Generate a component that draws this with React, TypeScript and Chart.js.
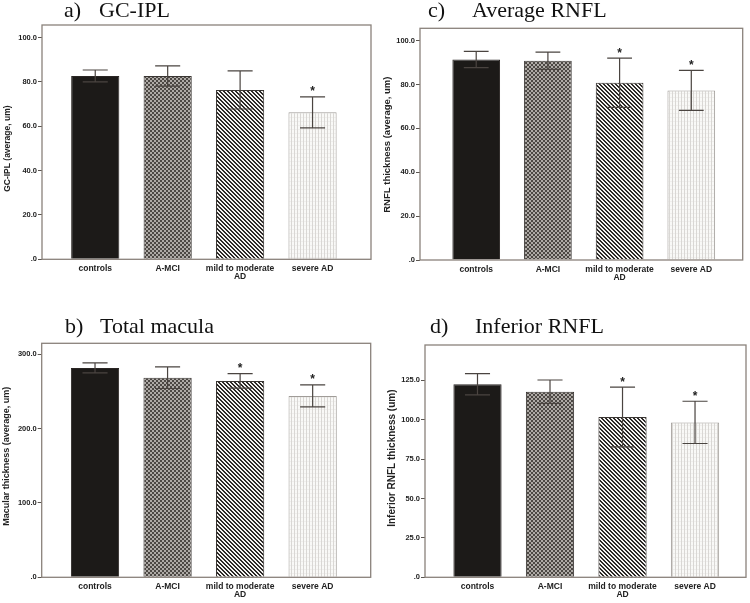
import React, { useEffect, useRef } from "react";
import { Chart, registerables } from "chart.js";

Chart.register(...registerables);

// ---- data ----
const categories = ["controls", "A-MCI", "mild to moderate\nAD", "severe AD"];

const gciplMeans = [82.7, 82.7, 76.4, 66.3];
const gciplErrors = [2.7, 4.6, 8.6, 7.0];
const gciplStars = [false, false, false, true];

const maculaMeans = [281.7, 268.6, 264.2, 244.0];
const maculaErrors = [6.7, 14.6, 9.8, 14.8];
const maculaStars = [false, false, true, true];

const avgRnflMeans = [91.4, 90.8, 80.8, 77.3];
const avgRnflErrors = [3.7, 3.9, 11.2, 9.1];
const avgRnflStars = [false, false, true, true];

const infRnflMeans = [122.5, 117.8, 101.7, 98.3];
const infRnflErrors = [6.7, 7.4, 19.0, 13.4];
const infRnflStars = [false, false, true, true];

// ---- layout / style per panel ----
type Panel = {
  letter: string;
  name: string;
  yTitle: string;
  values: number[];
  errors: number[];
  stars: boolean[];
  yMax: number;
  step: number;
  left: number;
  top: number;
  w: number;
  h: number;
  yW: number;
  padTop: number;
  padRight: number;
  xH: number;
  xMin: number;
  xMax: number;
  yTitleSize: number;
  yTitleX: number;
  yTitleDy: number;
  letterX: number;
  nameX: number;
  baseline: number;
};

const panels: Panel[] = [
  {
    letter: "a)", name: "GC-IPL", yTitle: "GC-IPL (average, um)",
    values: gciplMeans, errors: gciplErrors, stars: gciplStars,
    yMax: 105.7, step: 20,
    left: 0, top: 0, w: 375, h: 300,
    yW: 42, padTop: 25, padRight: 4, xH: 40.7, xMin: 0.265, xMax: 4.807,
    yTitleSize: 8.5, yTitleX: 8, yTitleDy: 6.5, letterX: 64, nameX: 99, baseline: 17,
  },
  {
    letter: "b)", name: "Total macula", yTitle: "Macular thickness (average, um)",
    values: maculaMeans, errors: maculaErrors, stars: maculaStars,
    yMax: 314.8, step: 100,
    left: 0, top: 300, w: 375, h: 303,
    yW: 41.7, padTop: 43.3, padRight: 4.3, xH: 25.7, xMin: 0.265, xMax: 4.8,
    yTitleSize: 9, yTitleX: 7, yTitleDy: -4, letterX: 65, nameX: 100, baseline: 33.3,
  },
  {
    letter: "c)", name: "Average RNFL", yTitle: "RNFL thickness (average, um)",
    values: avgRnflMeans, errors: avgRnflErrors, stars: avgRnflStars,
    yMax: 105.6, step: 20,
    left: 375, top: 0, w: 375, h: 300,
    yW: 45, padTop: 28.3, padRight: 7.3, xH: 40, xMin: 0.216, xMax: 4.717,
    yTitleSize: 9.5, yTitleX: 12.7, yTitleDy: 0.5, letterX: 53, nameX: 97, baseline: 17,
  },
  {
    letter: "d)", name: "Inferior RNFL", yTitle: "Inferior RNFL thickness (um)",
    values: infRnflMeans, errors: infRnflErrors, stars: infRnflStars,
    yMax: 147.4, step: 25,
    left: 375, top: 300, w: 375, h: 303,
    yW: 50, padTop: 45, padRight: 4, xH: 25.7, xMin: 0.276, xMax: 4.703,
    yTitleSize: 10, yTitleX: 17, yTitleDy: -3, letterX: 55, nameX: 100, baseline: 33.3,
  },
];

const SANS = "'Liberation Sans', Arial, sans-serif";
const SERIF = "'Liberation Serif', 'Times New Roman', serif";

function makePattern(ctx: CanvasRenderingContext2D, kind: string): CanvasPattern | string {
  const c = document.createElement("canvas");
  const g = c.getContext("2d");
  if (!g) return "#888";
  if (kind === "checker") {
    c.width = 4; c.height = 4;
    g.fillStyle = "#aeaaa6"; g.fillRect(0, 0, 4, 4);
    g.fillStyle = "#4c4844"; g.fillRect(0, 0, 2, 2); g.fillRect(2, 2, 2, 2);
  } else if (kind === "diag") {
    c.width = 4; c.height = 4;
    for (let y = 0; y < 4; y++) {
      for (let x = 0; x < 4; x++) {
        g.fillStyle = ((x - y + 8) % 4) < 2 ? "#2c2927" : "#f4f3f1";
        g.fillRect(x, y, 1, 1);
      }
    }
  } else {
    c.width = 3; c.height = 4;
    g.fillStyle = "#f9f9f7"; g.fillRect(0, 0, 3, 4);
    g.fillStyle = "#d9d7d4"; g.fillRect(0, 0, 1, 4);
    g.fillStyle = "#f0efed"; g.fillRect(1, 1, 2, 1);
  }
  return ctx.createPattern(c, "repeat") || "#888";
}

const decorPlugin = {
  id: "decor",
  afterDatasetsDraw(chart: any) {
    const p: Panel = chart.options.plugins.decor.panel;
    const ctx: CanvasRenderingContext2D = chart.ctx;
    const ys = chart.scales.y;
    const meta = chart.getDatasetMeta(0);
    ctx.save();
    meta.data.forEach((bar: any, i: number) => {
      const v = p.values[i];
      const e = p.errors[i];
      const yTop = ys.getPixelForValue(v + e);
      const yBot = ys.getPixelForValue(v - e);
      const x = bar.x;
      const half = bar.width * 0.26;
      ctx.strokeStyle = "#4a4440";
      ctx.lineWidth = 1.2;
      ctx.beginPath();
      ctx.moveTo(x, yTop); ctx.lineTo(x, yBot);
      ctx.moveTo(x - half, yTop); ctx.lineTo(x + half, yTop);
      ctx.moveTo(x - half, yBot); ctx.lineTo(x + half, yBot);
      ctx.stroke();
      if (p.stars[i]) {
        ctx.fillStyle = "#222";
        ctx.font = `bold 12px ${SANS}`;
        ctx.textAlign = "center";
        ctx.textBaseline = "alphabetic";
        ctx.fillText("*", x, yTop - 1.5);
      }
    });
    const a = chart.chartArea;
    ctx.strokeStyle = "#8a827b";
    ctx.lineWidth = 1.3;
    ctx.strokeRect(a.left, a.top, a.right - a.left, a.bottom - a.top);

    // rotated y-axis title
    ctx.translate(p.yTitleX, (a.top + a.bottom) / 2 + p.yTitleDy);
    ctx.rotate(-Math.PI / 2);
    ctx.fillStyle = "#222";
    ctx.font = `bold ${p.yTitleSize}px ${SANS}`;
    ctx.textAlign = "center";
    ctx.textBaseline = "middle";
    ctx.fillText(p.yTitle, 0, 0);
    ctx.restore();
  },
};

function PanelChart({ p }: { p: Panel }) {
  const ref = useRef<HTMLCanvasElement | null>(null);
  useEffect(() => {
    const canvas = ref.current;
    if (!canvas) return;
    const ctx = canvas.getContext("2d");
    if (!ctx) return;
    const bg = ["#1c1a18", makePattern(ctx, "checker"), makePattern(ctx, "diag"), makePattern(ctx, "light")];
    const chart = new Chart(ctx, {
      type: "bar",
      data: {
        datasets: [
          {
            data: p.values.map((v, i) => ({ x: i + 1, y: v })),
            backgroundColor: bg as any,
            borderColor: ["#2a2624", "#3a3633", "#3a3633", "#a09c98"],
            borderWidth: 1,
            barPercentage: 0.665,
            categoryPercentage: 1,
          } as any,
        ],
      },
      plugins: [decorPlugin as any],
      options: {
        responsive: false,
        animation: false,
        events: [],
        layout: { padding: { left: 0, top: p.padTop, right: p.padRight, bottom: 0 } },
        plugins: {
          legend: { display: false },
          tooltip: { enabled: false },
          decor: { panel: p },
        } as any,
        scales: {
          x: {
            type: "linear",
            min: p.xMin,
            max: p.xMax,
            offset: false,
            afterBuildTicks: (s: any) => {
              s.ticks = categories.map((_, i) => ({ value: i + 1 }));
            },
            afterFit: (s: any) => {
              s.height = p.xH;
            },
            ticks: {
              autoSkip: false,
              maxRotation: 0,
              padding: 5,
              color: "#222",
              font: { family: SANS, size: 8.5, weight: "bold", lineHeight: 1 },
              callback: (v: any) => {
                const lab = categories[Math.round(Number(v)) - 1];
                return lab ? lab.split("\n") : "";
              },
            },
            grid: { display: false, drawTicks: false },
            border: { display: false },
          } as any,
          y: {
            min: 0,
            max: p.yMax,
            afterFit: (s: any) => {
              s.width = p.yW;
            },
            ticks: {
              stepSize: p.step,
              includeBounds: false,
              padding: 1,
              color: "#222",
              font: { family: SANS, size: 7.5, weight: "bold" },
              callback: (v: any) => (Number(v) === 0 ? ".0" : Number(v).toFixed(1)),
            },
            grid: { drawOnChartArea: false, drawTicks: true, tickLength: 4, color: "#5a5550", lineWidth: 1 },
            border: { display: false },
            title: { display: false },
          } as any,
        },
      },
    });
    return () => chart.destroy();
  }, [p]);

  return (
    <div style={{ position: "absolute", left: p.left, top: p.top, width: p.w, height: p.h }}>
      <canvas ref={ref} width={p.w} height={p.h} style={{ position: "absolute", left: 0, top: 0, width: p.w, height: p.h }} />
      <span
        style={{
          position: "absolute", left: p.letterX, top: p.baseline - 18.4,
          fontFamily: SERIF, fontSize: 22, lineHeight: "22px", color: "#111", whiteSpace: "nowrap",
        }}
      >
        {p.letter}
      </span>
      <span
        style={{
          position: "absolute", left: p.nameX, top: p.baseline - 18.4,
          fontFamily: SERIF, fontSize: 22, lineHeight: "22px", color: "#111", whiteSpace: "nowrap",
        }}
      >
        {p.name}
      </span>
    </div>
  );
}

export default function App() {
  return (
    <div style={{ position: "absolute", left: 0, top: 0, width: 750, height: 603, background: "#fff", overflow: "hidden" }}>
      {panels.map((p) => (
        <PanelChart key={p.letter} p={p} />
      ))}
    </div>
  );
}
